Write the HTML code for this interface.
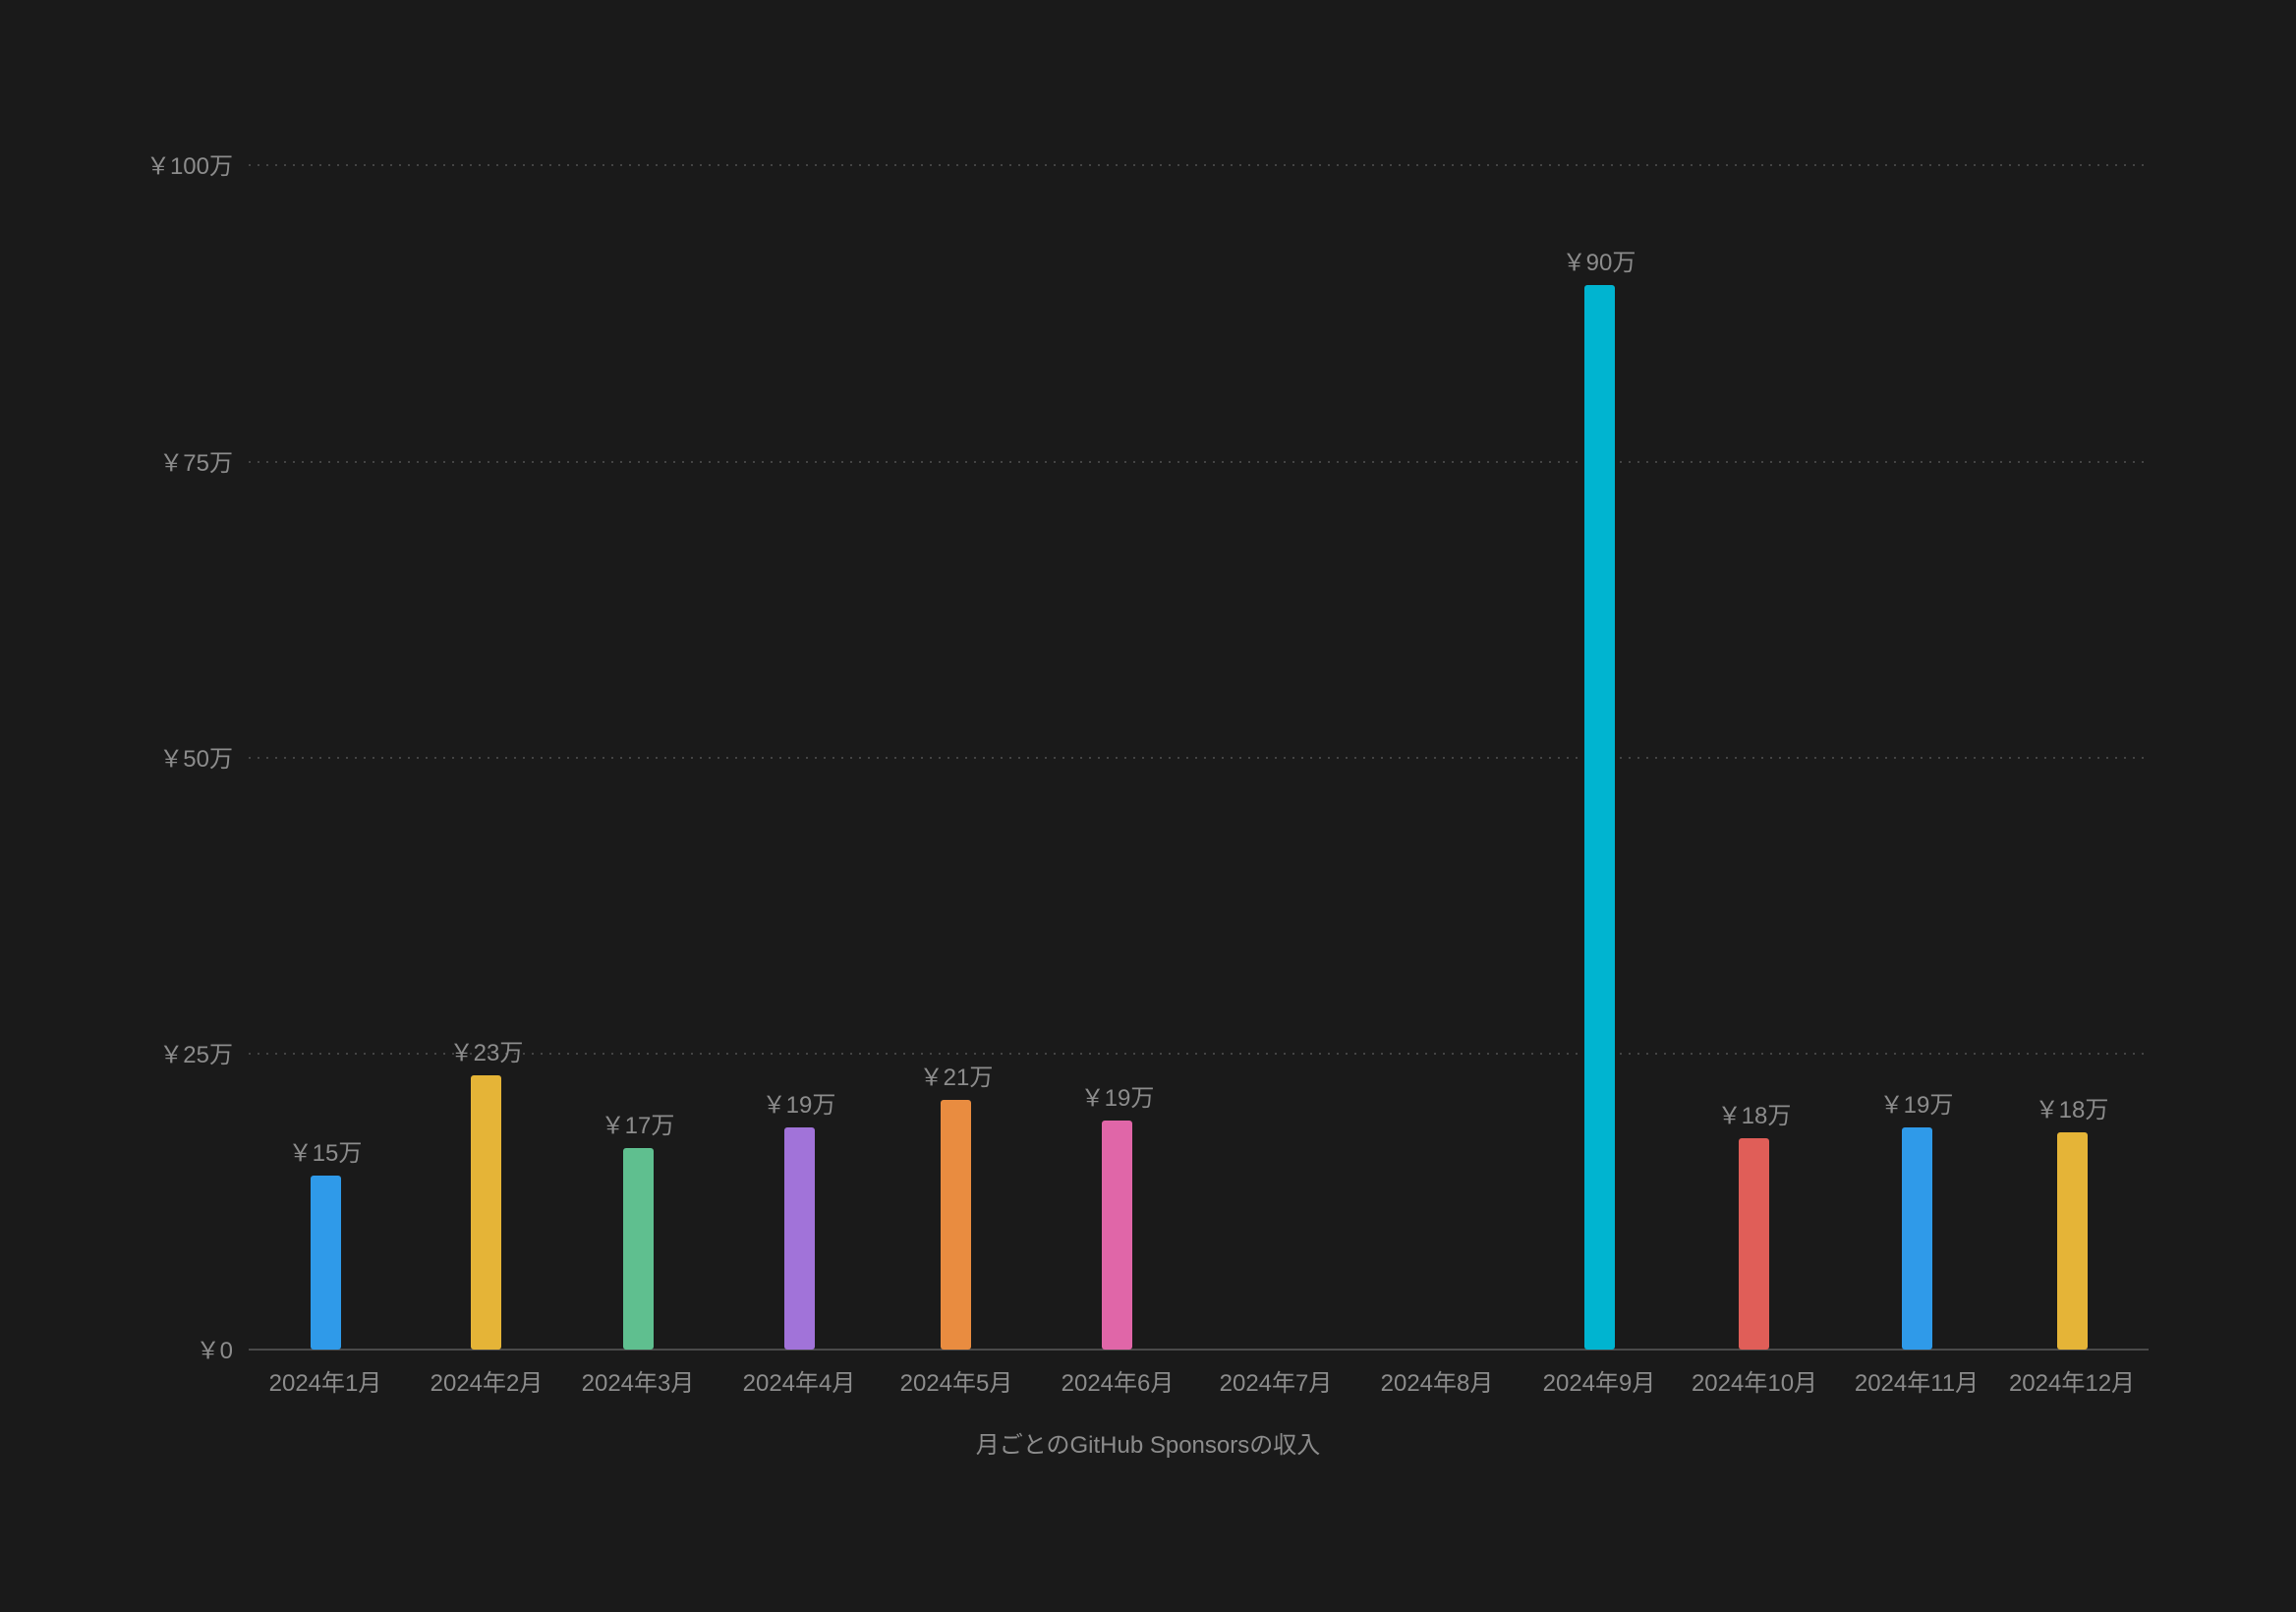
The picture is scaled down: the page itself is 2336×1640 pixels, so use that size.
<!DOCTYPE html>
<html><head><meta charset="utf-8"><style>
html,body{margin:0;padding:0;background:#1a1a1a;}
svg{display:block}
text{font-family:"Liberation Sans","Noto Sans CJK JP",sans-serif;fill:#8c8c8c;font-size:24px}
</style></head><body>
<svg width="2336" height="1640" viewBox="0 0 2336 1640">
<rect width="2336" height="1640" fill="#1a1a1a"/>
<g stroke="#444" stroke-width="2" stroke-dasharray="2 7">
<line x1="253" x2="2186" y1="168" y2="168"/>
<line x1="253" x2="2186" y1="470" y2="470"/>
<line x1="253" x2="2186" y1="771" y2="771"/>
<line x1="253" x2="2186" y1="1072" y2="1072"/>
</g>
<line x1="253" x2="2186" y1="1373" y2="1373" stroke="#4a4a4a" stroke-width="2"/>
<g text-anchor="end">
<text x="237" y="177">￥100万</text>
<text x="237" y="479">￥75万</text>
<text x="237" y="780">￥50万</text>
<text x="237" y="1081">￥25万</text>
<text x="237" y="1382">￥0</text>
</g>
<g>
<rect x="316" y="1196" width="31" height="177" rx="3" fill="#2f9ae9"/>
<rect x="479" y="1094" width="31" height="279" rx="3" fill="#e5b437"/>
<rect x="634" y="1168" width="31" height="205" rx="3" fill="#5fbf8f"/>
<rect x="798" y="1147" width="31" height="226" rx="3" fill="#a173d9"/>
<rect x="957" y="1119" width="31" height="254" rx="3" fill="#e98c40"/>
<rect x="1121" y="1140" width="31" height="233" rx="3" fill="#e066a8"/>
<rect x="1612" y="290" width="31" height="1083" rx="3" fill="#00b4d0"/>
<rect x="1769" y="1158" width="31" height="215" rx="3" fill="#e05e58"/>
<rect x="1935" y="1147" width="31" height="226" rx="3" fill="#2f9ae9"/>
<rect x="2093" y="1152" width="31" height="221" rx="3" fill="#e5b437"/>
</g>
<g text-anchor="middle">
<text x="331" y="1181">￥15万</text>
<text x="495" y="1079">￥23万</text>
<text x="649" y="1153">￥17万</text>
<text x="813" y="1132">￥19万</text>
<text x="973" y="1104">￥21万</text>
<text x="1137" y="1125">￥19万</text>
<text x="1627" y="275">￥90万</text>
<text x="1785" y="1143">￥18万</text>
<text x="1950" y="1132">￥19万</text>
<text x="2108" y="1137">￥18万</text>
</g>
<g text-anchor="middle">
<text x="331" y="1415">2024年1月</text>
<text x="495" y="1415">2024年2月</text>
<text x="649" y="1415">2024年3月</text>
<text x="813" y="1415">2024年4月</text>
<text x="973" y="1415">2024年5月</text>
<text x="1137" y="1415">2024年6月</text>
<text x="1298" y="1415">2024年7月</text>
<text x="1462" y="1415">2024年8月</text>
<text x="1627" y="1415">2024年9月</text>
<text x="1785" y="1415">2024年10月</text>
<text x="1950" y="1415">2024年11月</text>
<text x="2108" y="1415">2024年12月</text>
<text x="1168" y="1478">月ごとのGitHub Sponsorsの収入</text>
</g>
</svg>
</body></html>
